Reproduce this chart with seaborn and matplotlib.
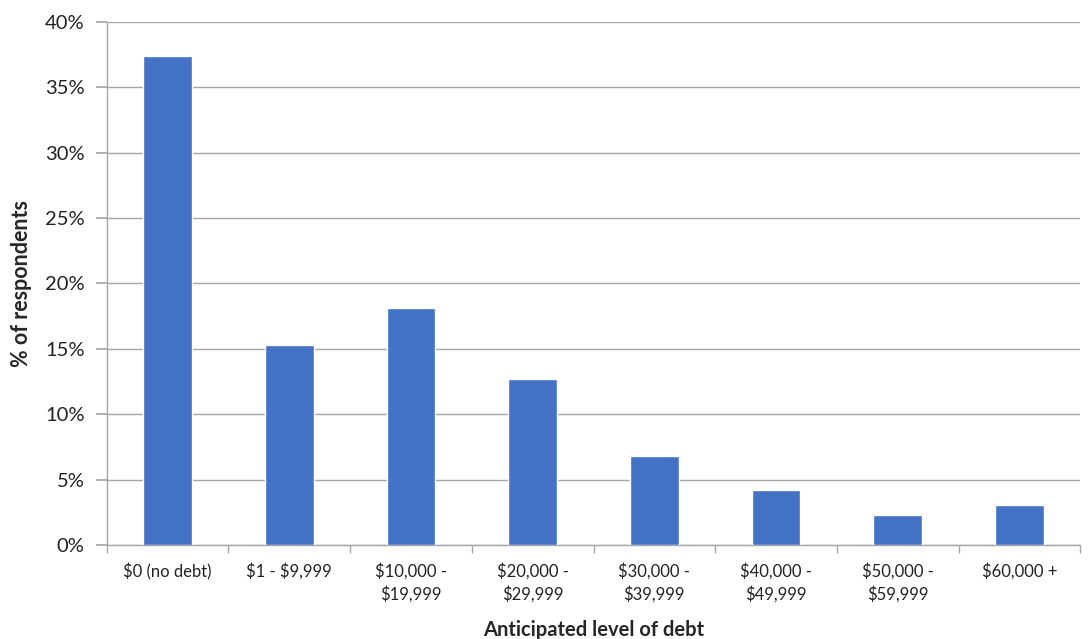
import matplotlib
matplotlib.use("Agg")
import matplotlib.pyplot as plt
import seaborn as sns
import pandas as pd
import numpy as np
from matplotlib.ticker import PercentFormatter, FixedLocator

# Chart data
debt_levels = [
    "$0 (no debt)", "$1 - $9,999", "$10,000 -\n$19,999", "$20,000 -\n$29,999",
    "$30,000 -\n$39,999", "$40,000 -\n$49,999", "$50,000 -\n$59,999", "$60,000 +",
]
pct_respondents = [37.4, 15.3, 18.1, 12.7, 6.8, 4.2, 2.3, 3.1]

df = pd.DataFrame({"level": debt_levels, "pct": pct_respondents})

sns.set_theme(style="white")
plt.rcParams["font.family"] = ["Lato", "DejaVu Sans"]
plt.rcParams["text.parse_math"] = False

fig, ax = plt.subplots(figsize=(10.88, 6.39), dpi=100)
fig.subplots_adjust(left=0.098, right=0.993, top=0.966, bottom=0.147)

sns.barplot(data=df, x="level", y="pct", color="#4472C4", saturation=1,
            width=0.4, ax=ax, zorder=3)

ax.set_ylim(0, 40)
ax.set_xlim(-0.5, len(debt_levels) - 0.5)
ax.set_yticks(np.arange(0, 41, 5))
ax.yaxis.set_major_formatter(PercentFormatter(decimals=0))
ax.grid(axis="y", color="#a6a6a6", linewidth=1, zorder=0)

for side in ["top", "right"]:
    ax.spines[side].set_visible(False)
for side in ["left", "bottom"]:
    ax.spines[side].set_color("#a6a6a6")
    ax.spines[side].set_linewidth(1)

ax.tick_params(axis="y", which="major", left=True, length=8, color="#a6a6a6",
               labelsize=14.5, labelcolor="#222222", pad=8)
ax.tick_params(axis="x", which="major", bottom=False, labelsize=12,
               labelcolor="#222222", pad=7)
for lbl in ax.get_xticklabels():
    lbl.set_linespacing(1.45)
ax.xaxis.set_minor_locator(FixedLocator(np.arange(-0.5, len(debt_levels), 1)))
ax.tick_params(axis="x", which="minor", bottom=True, length=6, color="#a6a6a6")

ax.set_xlabel("Anticipated level of debt", fontsize=14.5, fontweight="bold",
              labelpad=12)
ax.set_ylabel("% of respondents", fontsize=15.5, fontweight="bold", labelpad=9)

fig.savefig("out.png", dpi=100)
